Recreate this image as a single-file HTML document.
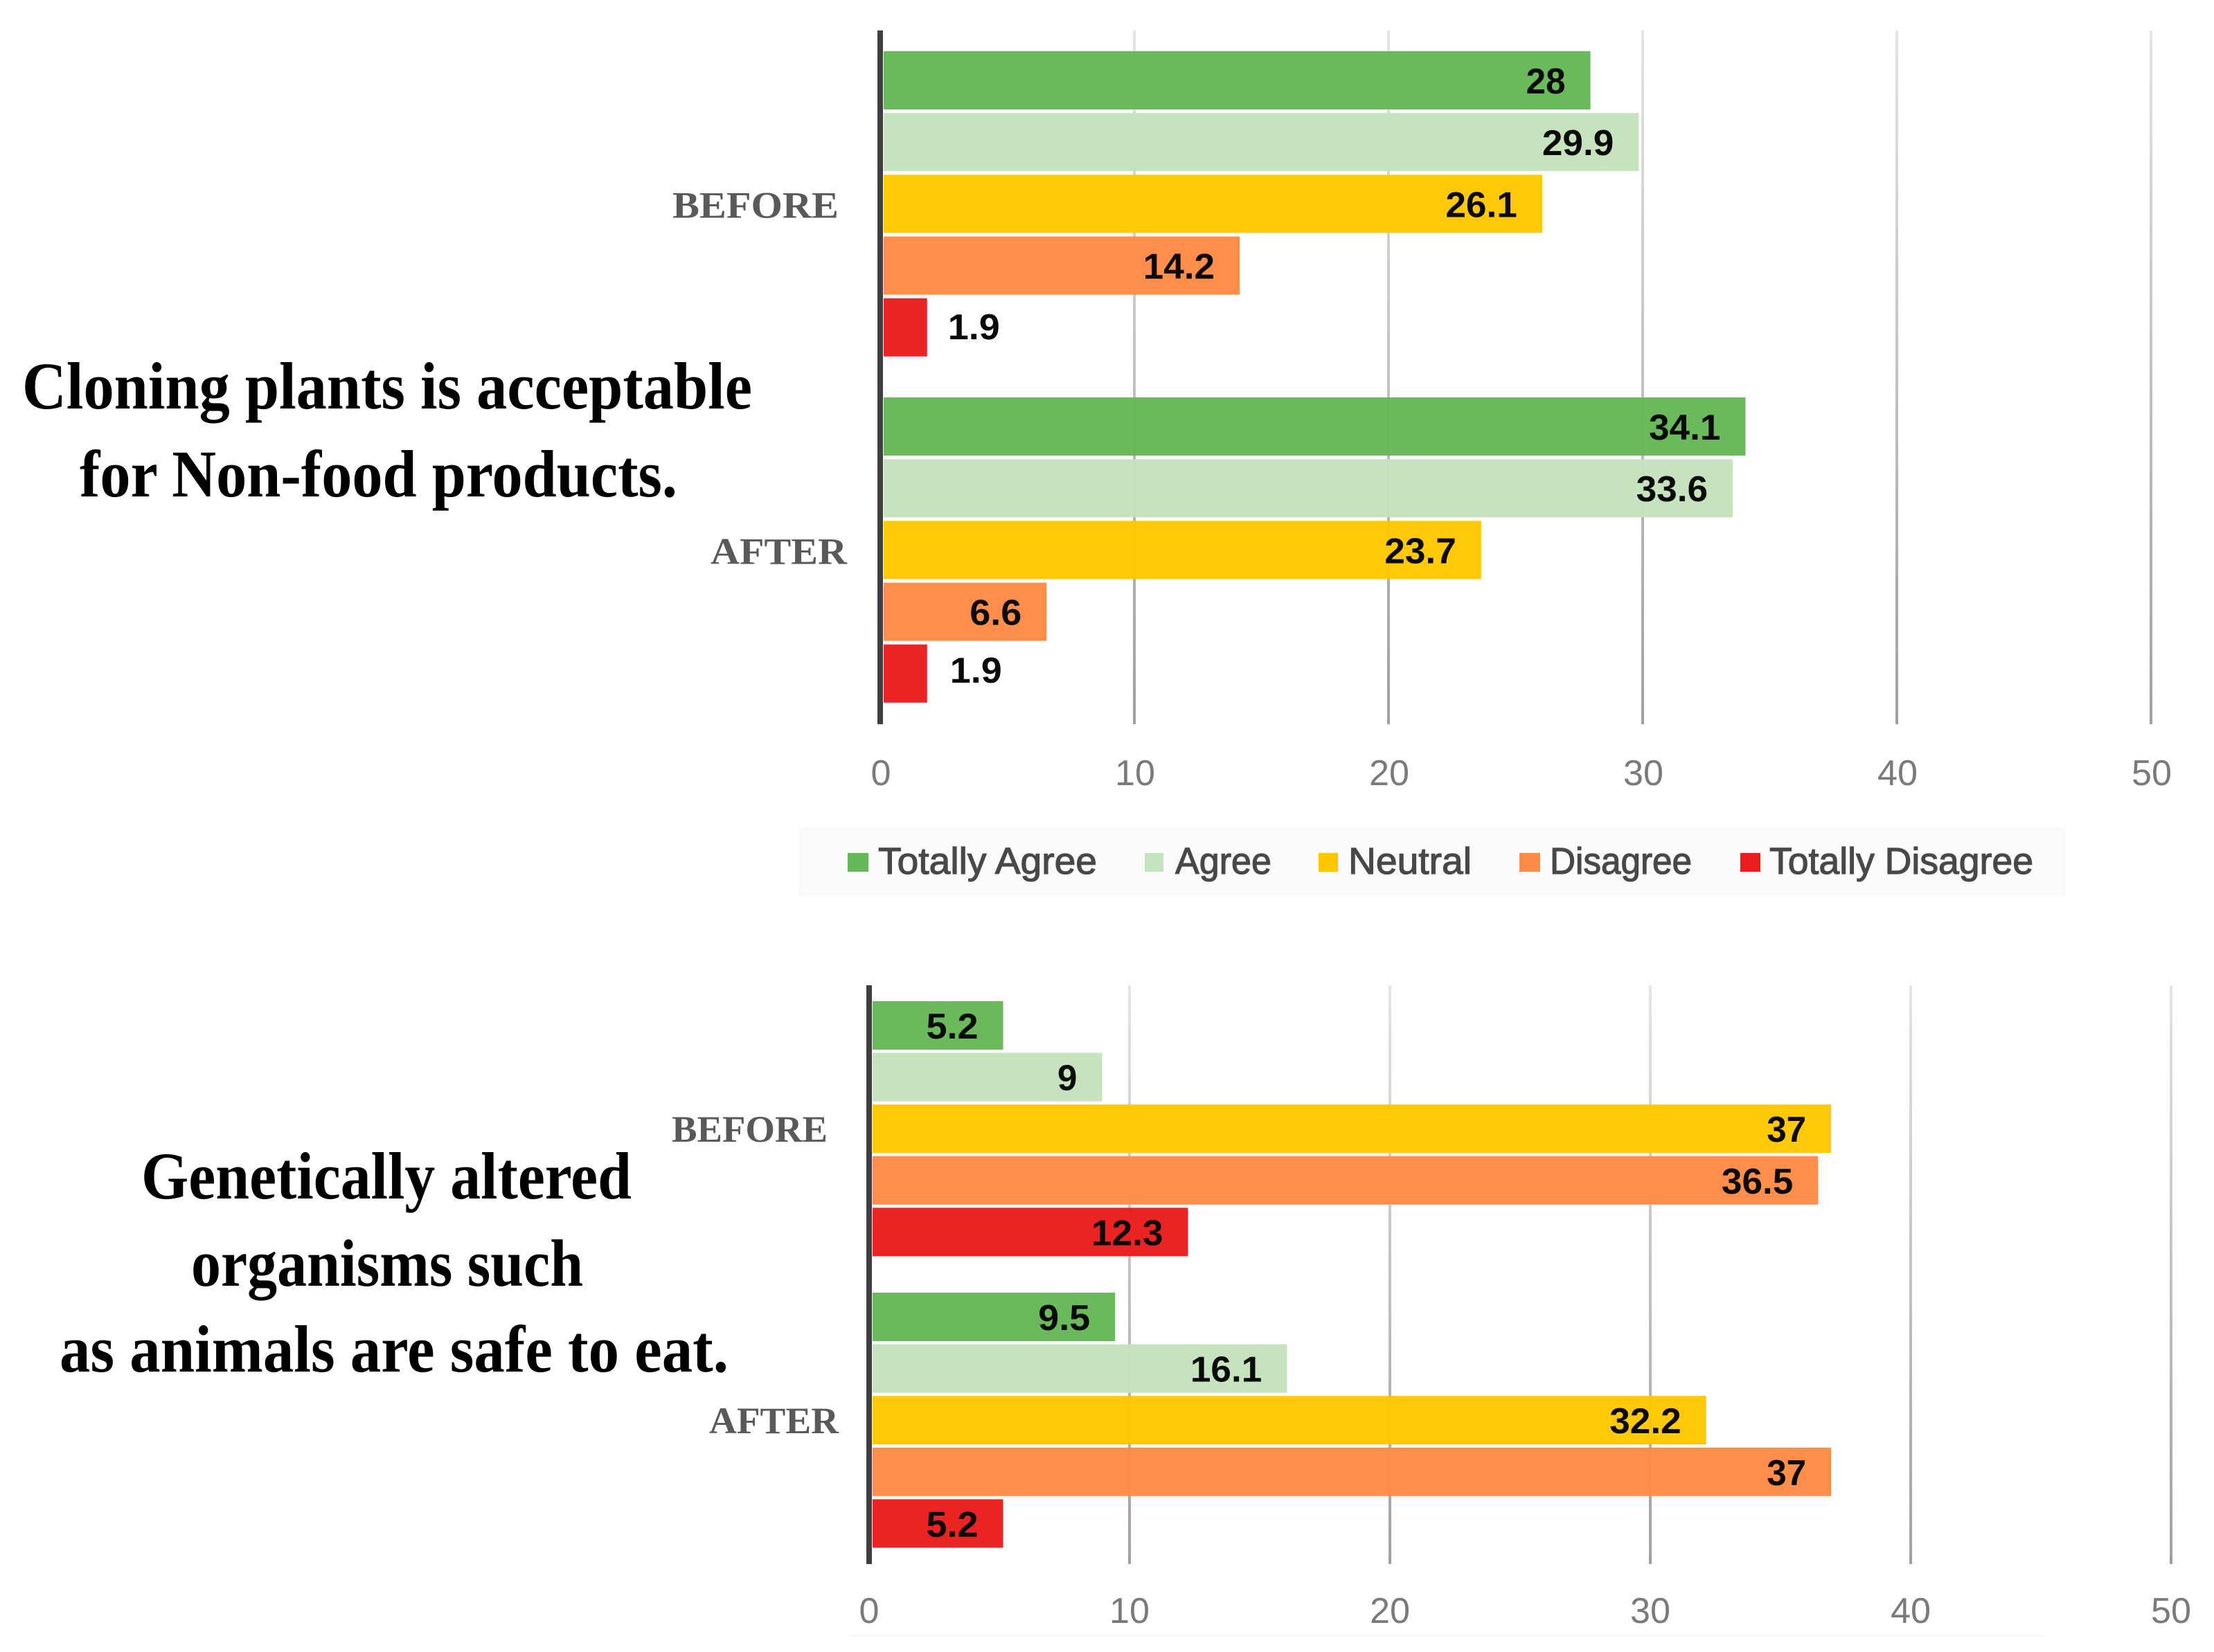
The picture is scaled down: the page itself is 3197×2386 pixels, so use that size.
<!DOCTYPE html>
<html lang="en">
<head>
<meta charset="utf-8">
<title>Survey responses before and after</title>
<style>
  html, body { margin: 0; padding: 0; background: #fff; width: 3197px; height: 2386px; overflow: hidden; }
  svg { display: block; }
  .title { font-family: "Liberation Serif", serif; font-weight: 700; font-size: 96px; fill: #000; }
  .cat { font-family: "Liberation Serif", serif; font-weight: 700; font-size: 54px; fill: #595959; }
  .val { font-family: "Liberation Sans", sans-serif; font-weight: 700; font-size: 52px; fill: #0a0a0a; }
  .tick { font-family: "Liberation Sans", sans-serif; font-size: 52px; fill: #7a7a7a; }
  .leg { font-family: "Liberation Sans", sans-serif; font-size: 54px; fill: #484848; stroke: #484848; stroke-width: 1.2px; }
</style>
</head>
<body>
<svg id="stage" xmlns="http://www.w3.org/2000/svg" width="3197" height="2386" viewBox="0 0 3197 2386">
  <defs>
    <linearGradient id="gridFade" x1="0" y1="0" x2="0" y2="1">
      <stop offset="0" stop-color="#e4e4e4"/>
      <stop offset="1" stop-color="#a0a0a0"/>
    </linearGradient>
  </defs>
  <rect width="3197" height="2386" fill="#ffffff"/>

  <text class="title" x="32" y="590" textLength="1054" lengthAdjust="spacingAndGlyphs">Cloning plants is acceptable</text>
  <text class="title" x="115" y="717" textLength="863" lengthAdjust="spacingAndGlyphs">for Non-food products.</text>

  <text class="title" x="204" y="1731" textLength="708" lengthAdjust="spacingAndGlyphs">Genetically altered</text>
  <text class="title" x="276" y="1857" textLength="566" lengthAdjust="spacingAndGlyphs">organisms such</text>
  <text class="title" x="86" y="1981" textLength="966" lengthAdjust="spacingAndGlyphs">as animals are safe to eat.</text>

  <rect x="1153" y="1195" width="1830" height="100" fill="#fafafa"/>
  <rect x="1225" y="2361" width="1726" height="3" fill="#f7f7f7"/>
</svg>

<script>
const categories = ["BEFORE", "AFTER"];
const seriesNames = ["Totally Agree", "Agree", "Neutral", "Disagree", "Totally Disagree"];
const seriesColors = ["#65b857", "#c3e3bc", "#ffc600", "#ff8a44", "#eb1c1e"];
const tickValues = [0, 10, 20, 30, 40, 50];

const cloningBefore = [28, 29.9, 26.1, 14.2, 1.9];
const cloningAfter = [34.1, 33.6, 23.7, 6.6, 1.9];
const alteredBefore = [5.2, 9, 37, 36.5, 12.3];
const alteredAfter = [9.5, 16.1, 32.2, 37, 5.2];

const chartOne = {
  key: "cloning",
  groups: [cloningBefore, cloningAfter],
  axisX: 1276, x0: 1271, pxPerUnit: 36.7,
  axisTop: 44, axisBottom: 1046,
  barTop: 74, groupStep: 500, barStep: 89.2, barHeight: 84,
  tickBaseline: 1134, tickShift: 1,
  catRight: { BEFORE: 1211, AFTER: 1223 },
  catWidth: { BEFORE: 240, AFTER: 197 },
  catNudge: 0,
  outsideNudge: [-2, -6]
};
const chartTwo = {
  key: "altered",
  groups: [alteredBefore, alteredAfter],
  axisX: 1260, x0: 1255, pxPerUnit: 37.6,
  axisTop: 1423, axisBottom: 2259,
  barTop: 1446, groupStep: 421, barStep: 74.6, barHeight: 70,
  tickBaseline: 2344, tickShift: 0,
  catRight: { BEFORE: 1195, AFTER: 1211 },
  catWidth: { BEFORE: 225, AFTER: 187 },
  catNudge: -1,
  outsideNudge: [0, 0]
};

const NS = "http://www.w3.org/2000/svg";
const stage = document.getElementById("stage");

function make(tag, attrs, text) {
  const el = document.createElementNS(NS, tag);
  for (const k in attrs) el.setAttribute(k, attrs[k]);
  if (text !== undefined) el.textContent = text;
  stage.appendChild(el);
  return el;
}
function numberWidth(str, digit, dot) {
  let w = 0;
  for (const c of String(str)) w += c === "." ? dot : digit;
  return w;
}
function drawChart(chart) {
  const xScale = v => chart.x0 + v * chart.pxPerUnit;
  const barEnd = v => xScale(v) - 2;
  const barY = (g, s) => chart.barTop + g * chart.groupStep + s * chart.barStep;

  tickValues.forEach(t => {
    if (t !== 0) {
      const grid = make("rect", {
        x: xScale(t) - 2, y: chart.axisTop, width: 4,
        height: chart.axisBottom - chart.axisTop, fill: "url(#gridFade)"
      });
      
      
    }
    const label = make("text", {
      class: "tick", x: xScale(t) + chart.tickShift, y: chart.tickBaseline, "text-anchor": "middle",
      textLength: numberWidth(t, 29, 0), lengthAdjust: "spacingAndGlyphs"
    }, String(t));
    
    
  });

  chart.groups.forEach((values, g) => {
    values.forEach((v, s) => {
      const y = barY(g, s);
      const bar = make("rect", {
        x: chart.axisX, y: y, width: Math.max(0, barEnd(v) - chart.axisX),
        height: chart.barHeight, fill: seriesColors[s], "fill-opacity": 0.97
      });
      
      

      const outside = v < 3;
      const w = numberWidth(v, 28.5, 18);
      const lx = outside ? barEnd(v) + 30 + 3 * g : barEnd(v) - 36 - w;
      const ly = y + chart.barHeight / 2 + 19 + (outside ? chart.outsideNudge[g] : 0);
      const value = make("text", {
        class: "val", x: lx, y: ly,
        textLength: w, lengthAdjust: "spacingAndGlyphs"
      }, String(v));
      
      
    });

    const catName = categories[g];
    const catY = barY(g, 2) + chart.barHeight / 2 + 20 + chart.catNudge;
    const cat = make("text", {
      class: "cat", x: chart.catRight[catName], y: catY, "text-anchor": "end",
      textLength: chart.catWidth[catName], lengthAdjust: "spacingAndGlyphs"
    }, catName);
    
    
  });

  const axis = make("rect", {
    x: chart.axisX - 9, y: chart.axisTop, width: 8,
    height: chart.axisBottom - chart.axisTop, fill: "#404040"
  });
  
  
}

drawChart(chartOne);
drawChart(chartTwo);

const legendLayout = {
  "Totally Agree": { swatch: 1224, swatchW: 30, text: 1268, textW: 316 },
  "Agree": { swatch: 1653, swatchW: 27, text: 1697, textW: 139 },
  "Neutral": { swatch: 1904, swatchW: 28, text: 1947, textW: 178 },
  "Disagree": { swatch: 2194, swatchW: 30, text: 2238, textW: 205 },
  "Totally Disagree": { swatch: 2513, swatchW: 29, text: 2555, textW: 381 }
};
seriesNames.forEach((name, i) => {
  const lay = legendLayout[name];
  const swatch = make("rect", { x: lay.swatch, y: 1232, width: lay.swatchW, height: 27, fill: seriesColors[i] });
  
  
  const label = make("text", {
    class: "leg", x: lay.text, y: 1262, textLength: lay.textW, lengthAdjust: "spacingAndGlyphs"
  }, name);
  
  
});
</script>
</body>
</html>
